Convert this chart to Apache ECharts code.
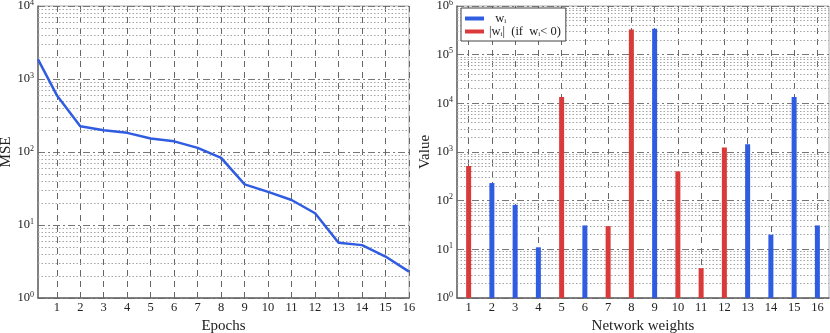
<!DOCTYPE html>
<html>
<head>
<meta charset="utf-8">
<script src="https://cdn.jsdelivr.net/npm/echarts@6/dist/echarts.min.js"></script>
<style>html,body{margin:0;padding:0;background:#fff}#c{width:830px;height:333px}</style>
</head>
<body>
<div id="c"></div>
<script>
// ---- data ----
const epochs = [0.2, 1, 2, 3, 4, 5, 6, 7, 8, 9, 10, 11, 12, 13, 14, 15, 16];
const mse = [1860, 600, 226, 199, 183, 153, 140, 114, 83, 36, 28.4, 22, 14.5, 5.7, 5.3, 3.7, 2.3];
const epochTicks = [1, 2, 3, 4, 5, 6, 7, 8, 9, 10, 11, 12, 13, 14, 15, 16];
const weightIdx = [1, 2, 3, 4, 5, 6, 7, 8, 9, 10, 11, 12, 13, 14, 15, 16];
const weights = [-515, 230, 82, 11, -13500, 31, -30, -330000, 340000, -400, -4.1, -1230, 1450, 20, 13500, 31];
const minorMult = [2, 3, 4, 5, 6, 7, 8, 9];
const leftDecades = [0, 1, 2, 3];
const rightDecades = [0, 1, 2, 3, 4, 5];

const posData = weightIdx.map((x, i) => weights[i] > 0 ? [x, weights[i]] : null).filter(Boolean);
const negData = weightIdx.map((x, i) => weights[i] < 0 ? [x, -weights[i]] : null).filter(Boolean);

function minorLines(decs) {
  const out = [];
  decs.forEach(d => minorMult.forEach(m => out.push({ yAxis: m * Math.pow(10, d) })));
  return out;
}

const FONT = '"Liberation Serif", "DejaVu Serif", serif';
const BLUE = '#2f5ce0';
const RED = '#db3a3a';

const yLabel = {
  fontFamily: FONT, color: '#222', margin: 4,
  formatter: v => '{b|10}{s|' + Math.round(Math.log10(v)) + '}',
  rich: {
    b: { fontSize: 12.5, fontFamily: FONT, color: '#222', lineHeight: 15 },
    s: { fontSize: 8, fontFamily: FONT, color: '#222', verticalAlign: 'top', lineHeight: 9 }
  }
};
const xLabel = { fontFamily: FONT, fontSize: 12.5, color: '#222', margin: 3, customValues: epochTicks };
const vSplit = { show: true, lineStyle: { color: '#666', type: [6, 5], width: 1 } };
const hSplit = { show: true, lineStyle: { color: '#777', type: [7, 3, 2, 3], width: 1 } };
const axisLine = { show: true, onZero: false, lineStyle: { color: '#666', width: 1.5 } };
const minorStyle = { color: '#a5a5a5', type: [1.5, 2], width: 1 };
const nameStyle = { fontFamily: FONT, fontSize: 15, color: '#222' };

const chart = echarts.init(document.getElementById('c'), null, { renderer: 'canvas' });
chart.setOption({
  animation: false,
  grid: [
    { left: 38, top: 6, right: 421, bottom: 35, show: true, borderColor: '#aaa', borderWidth: 1, outerBoundsMode: 'none', containLabel: false },
    { left: 457, top: 6, right: 1, bottom: 35, show: true, borderColor: '#aaa', borderWidth: 1, outerBoundsMode: 'none', containLabel: false }
  ],
  legend: {
    left: 461, top: 8, orient: 'vertical',
    backgroundColor: '#fff', borderColor: '#444', borderWidth: 1,
    padding: [4, 5, 3, 4], itemGap: 0, itemWidth: 19, itemHeight: 4,
    data: [
      { name: 'w_i', icon: 'rect' },
      { name: '|w_i| (if w_i < 0)', icon: 'rect' }
    ],
    formatter: n => n === 'w_i'
      ? '{t|  w}{sub|i}'
      : '{t||w}{sub|i}{t||  (if  w}{sub|i}{t|< 0)}',
    textStyle: {
      fontFamily: FONT, fontSize: 12.5, color: '#222',
      rich: {
        t: { fontFamily: FONT, fontSize: 12.5, color: '#222', lineHeight: 12.5 },
        sub: { fontFamily: FONT, fontSize: 7, color: '#222', verticalAlign: 'bottom', lineHeight: 6 }
      }
    }
  },
  xAxis: [
    {
      type: 'value', gridIndex: 0, min: 0.2, max: 16,
      name: 'Epochs', nameLocation: 'middle', nameGap: 12, nameTextStyle: nameStyle,
      axisLine: axisLine,
      axisTick: { show: true, inside: true, length: 4, customValues: epochTicks, lineStyle: { color: '#666' } },
      axisLabel: xLabel,
      splitLine: vSplit
    },
    {
      type: 'value', gridIndex: 1, min: 0.5, max: 16.5,
      name: 'Network weights', nameLocation: 'middle', nameGap: 12, nameTextStyle: nameStyle,
      axisLine: axisLine,
      axisTick: { show: true, inside: true, length: 4, customValues: weightIdx, lineStyle: { color: '#666' } },
      axisLabel: Object.assign({}, xLabel, { customValues: weightIdx }),
      splitLine: vSplit
    }
  ],
  yAxis: [
    {
      type: 'log', logBase: 10, gridIndex: 0, min: 1, max: 10000, splitNumber: 4,
      name: 'MSE', nameLocation: 'middle', nameGap: 24, nameTextStyle: nameStyle,
      axisLine: axisLine, axisTick: { show: false },
      axisLabel: yLabel, splitLine: hSplit, minorTick: { show: false }
    },
    {
      type: 'log', logBase: 10, gridIndex: 1, min: 1, max: 1000000, splitNumber: 6,
      name: 'Value', nameLocation: 'middle', nameGap: 20, nameTextStyle: nameStyle,
      axisLine: axisLine, axisTick: { show: false },
      axisLabel: yLabel, splitLine: hSplit, minorTick: { show: false }
    }
  ],
  series: [
    {
      type: 'line', xAxisIndex: 0, yAxisIndex: 0, name: 'MSE',
      data: epochs.map((x, i) => [x, mse[i]]),
      showSymbol: false, symbol: 'none',
      lineStyle: { color: BLUE, width: 2.5 }, itemStyle: { color: BLUE },
      z: 5,
      markLine: {
        silent: true, symbol: 'none', label: { show: false },
        lineStyle: minorStyle, data: minorLines(leftDecades), z: 1
      }
    },
    {
      type: 'bar', xAxisIndex: 1, yAxisIndex: 1, name: 'w_i',
      data: posData, barWidth: 5, barGap: '-100%',
      itemStyle: { color: BLUE }, z: 5,
      markLine: {
        silent: true, symbol: 'none', label: { show: false },
        lineStyle: minorStyle, data: minorLines(rightDecades), z: 1
      }
    },
    {
      type: 'bar', xAxisIndex: 1, yAxisIndex: 1, name: '|w_i| (if w_i < 0)',
      data: negData, barWidth: 5, barGap: '-100%',
      itemStyle: { color: RED }, z: 5
    }
  ]
});
</script>
</body>
</html>
